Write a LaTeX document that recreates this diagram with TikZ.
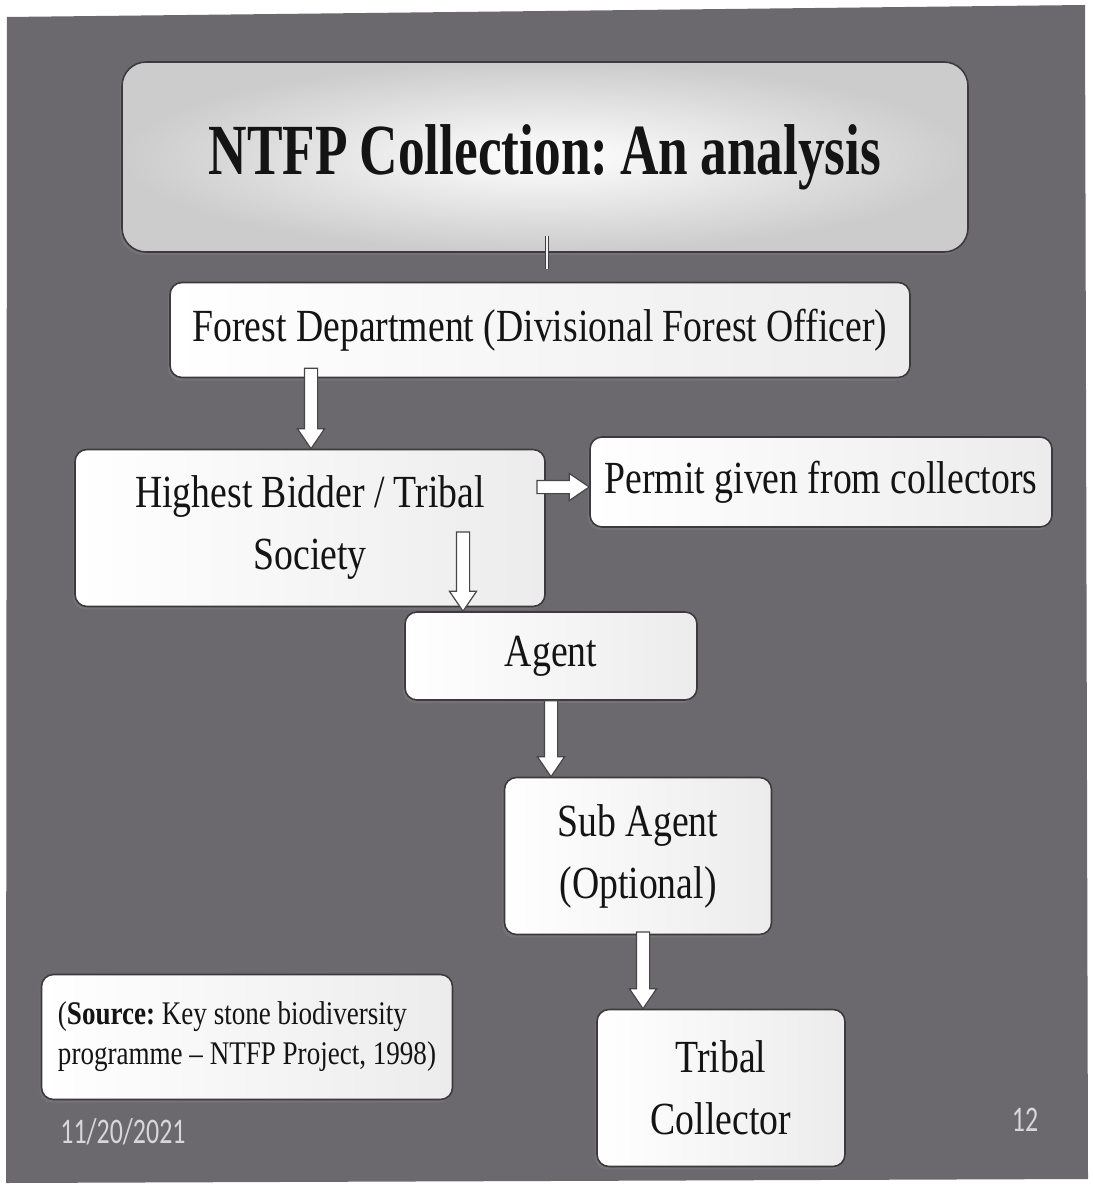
\documentclass[tikz,border=0pt]{standalone}
\usepackage{fontspec}
\setmainfont{Liberation Serif}[FakeStretch=0.82]
\newfontfamily\titlefont{Liberation Serif}[FakeStretch=0.74,WordSpace=0.9]
\newfontfamily\datefont{Carlito}[FakeStretch=0.72]
\usetikzlibrary{calc,shadows}
\definecolor{slidebg}{RGB}{108,105,110}
\definecolor{inkc}{RGB}{20,20,20}
\definecolor{edgec}{RGB}{60,58,60}
\definecolor{datec}{RGB}{215,215,215}
\tikzset{
 box/.style={draw=edgec, line width=0.8pt, rounded corners=6pt, left color=white, right color=white!85!gray,
   text=inkc, align=center, inner sep=0pt, font=\fontsize{23}{31}\selectfont,
   drop shadow={shadow xshift=-1pt, shadow yshift=-1.5pt, opacity=0.45}},
 titlebox/.style={box, rounded corners=12pt, inner color=white, outer color=white!60!gray,
   font=\titlefont\fontsize{36}{42}\selectfont\bfseries},
 blockarrow/.style={draw=gray!55!black, fill=white, line width=0.6pt},
 thinlink/.style={draw=gray!50!black, double=gray!10, double distance=1.2pt, line width=0.5pt},
 slidetext/.style={text=datec, font=\datefont\fontsize{18}{20}\selectfont, inner sep=0pt}
}
\newcommand\vblockarrow[2]{\path[blockarrow] let \p1=#1, \p2=#2 in
  (\x1-3.3pt,\y1) -- (\x1-3.3pt,\y2+10pt) -- (\x1-6.8pt,\y2+10pt) -- (\x1,\y2)
  -- (\x1+6.8pt,\y2+10pt) -- (\x1+3.3pt,\y2+10pt) -- (\x1+3.3pt,\y1) -- cycle;}
\newcommand\hblockarrow[2]{\path[blockarrow] let \p1=#1, \p2=#2 in
  (\x1,\y1-3.3pt) -- (\x2-10pt,\y1-3.3pt) -- (\x2-10pt,\y1-6.8pt) -- (\x2,\y1)
  -- (\x2-10pt,\y1+6.8pt) -- (\x2-10pt,\y1+3.3pt) -- (\x1,\y1+3.3pt) -- cycle;}
\frenchspacing
\begin{document}
\begin{tikzpicture}[x=0.5pt,y=-0.5pt]
\useasboundingbox (0,0) rectangle (1092,1187);
\fill[white] (0,0) rectangle (1092,1187);
\fill[slidebg] (7,17) -- (1085,5) -- (1088,1179) -- (6,1183) -- cycle;

\node[titlebox, minimum width=423pt, minimum height=95pt] (title) at (545,157) {NTFP Collection: An analysis};
\node[box, minimum width=370pt, minimum height=47.5pt] (fd) at (540,330) {Forest Department (Divisional Forest Officer)};
\node[box, minimum width=235pt, minimum height=78.5pt] (hb) at (310,528) {Highest Bidder / Tribal\\Society};
\node[box, minimum width=231pt, minimum height=45pt] (permit) at (821,482) {Permit given from collectors};
\node[box, minimum width=146pt, minimum height=44pt] (agent) at (551,656) {Agent};
\node[box, minimum width=133.5pt, minimum height=78.5pt] (sub) at (638,856) {Sub Agent\\(Optional)};
\node[box, minimum width=124pt, minimum height=78.5pt] (tc) at (721,1088) {Tribal\\Collector};
\node[box, align=left, minimum width=205.5pt, minimum height=62.5pt,
  font=\fontsize{16.5}{20}\selectfont] (src) at (247,1037)
  {(\textbf{Source:} Key stone biodiversity\\programme -- NTFP Project, 1998)};

\node[slidetext, anchor=west] (date) at (60,1132) {11/20/2021};
\node[slidetext] (page) at (1025,1120) {12};

\draw[thinlink] ($(title.south)+(2,-17)$) -- ($(title.south |- fd.north)+(2,-13)$);

\coordinate (fdA) at ($(fd.south -| hb.north)+(1,-10)$);
\vblockarrow{(fdA)}{(hb.north)}
\coordinate (hbA) at (463,532);
\vblockarrow{(hbA)}{(agent.north -| hbA)}
\coordinate (hbR) at (537,487);
\hblockarrow{(hbR)}{(permit.west |- hbR)}
\vblockarrow{(agent.south)}{(agent.south |- sub.north)}
\coordinate (subB) at (643,932);
\vblockarrow{(subB)}{(subB |- tc.north)}
\end{tikzpicture}
\end{document}
